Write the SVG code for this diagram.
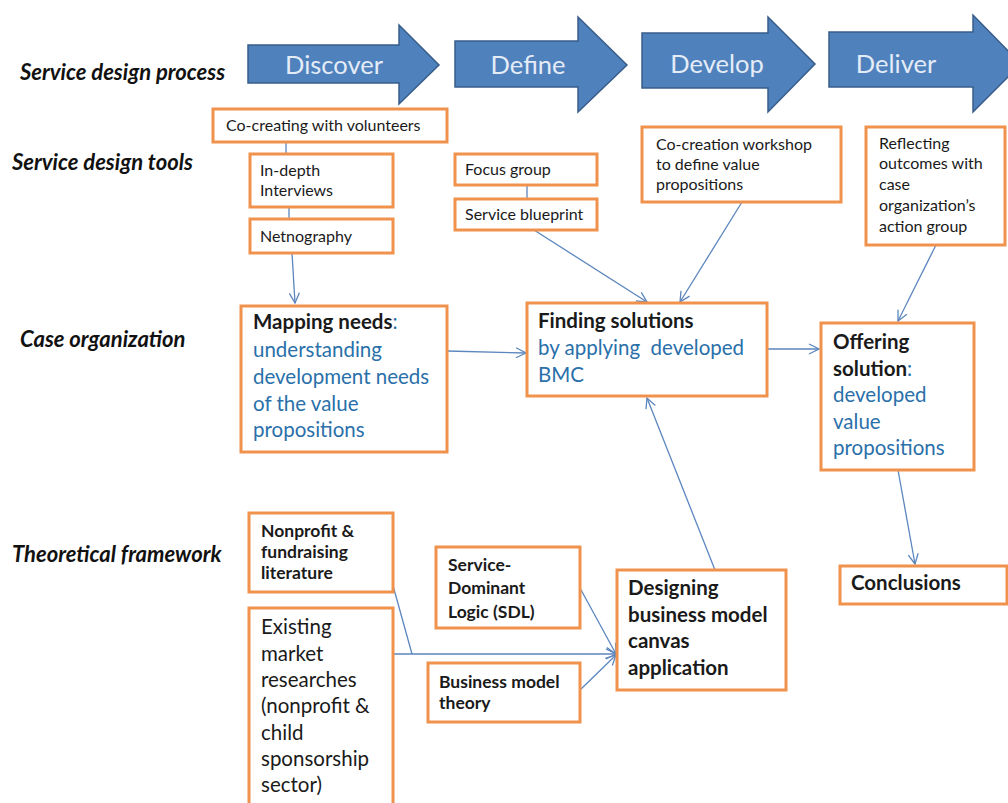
<svg xmlns="http://www.w3.org/2000/svg" width="1008" height="803" viewBox="0 0 1008 803">
  <style>
    .bg { fill: #ffffff; }
    .phase { fill: #4F81BD; stroke: #385D8A; stroke-width: 1.5; }
    .phase-label { font-family: Lato, "Open Sans", sans-serif; font-size: 25.5px; fill: #E4ECF7; text-anchor: middle; }
    .row-label { font-family: Lato, "Open Sans", sans-serif; font-size: 22px; font-weight: bold; font-style: italic; fill: #111111; }
    .box { fill: #ffffff; stroke: #F0924C; stroke-width: 3; }
    .t-sm { font-family: Lato, "Open Sans", sans-serif; font-size: 16px; fill: #1a1a1a; }
    .t-smb { font-family: Lato, "Open Sans", sans-serif; font-size: 17.5px; font-weight: bold; fill: #1a1a1a; }
    .t-lg { font-family: Lato, "Open Sans", sans-serif; font-size: 20.5px; fill: #1a1a1a; }
    .t-lgb { font-family: Lato, "Open Sans", sans-serif; font-size: 20.5px; font-weight: bold; fill: #1a1a1a; }
    .blue { fill: #2A70AA; font-weight: normal; }
    .link { fill: none; stroke: #5B86BE; stroke-width: 1.3; }
  </style>
  <defs>
    <marker id="open-head" viewBox="0 0 12 12" refX="11" refY="6" markerWidth="12" markerHeight="12" markerUnits="userSpaceOnUse" orient="auto">
      <path d="M1,1 L11,6 L1,11" fill="none" stroke="#5B86BE" stroke-width="1.3"/>
    </marker>
  </defs>

  <rect class="bg" x="0" y="0" width="1008" height="803"/>

  <!-- Row labels -->
  <g id="row-labels">
    <text class="row-label" x="20" y="80">Service design process</text>
    <text class="row-label" x="12" y="170">Service design tools</text>
    <text class="row-label" x="20" y="347">Case organization</text>
    <text class="row-label" x="12" y="562">Theoretical framework</text>
  </g>

  <!-- Process phases -->
  <g id="phase-discover">
    <path class="phase" d="M248,45 H399 V25 L439,65 L399,104 V83 H248 Z"/>
    <text class="phase-label" x="334" y="74">Discover</text>
  </g>
  <g id="phase-define">
    <path class="phase" d="M455,41 H578 V17 L627,65 L578,112 V87 H455 Z"/>
    <text class="phase-label" x="528" y="74">Define</text>
  </g>
  <g id="phase-develop">
    <path class="phase" d="M642,33 H768 V17 L815,64 L768,112 V88 H642 Z"/>
    <text class="phase-label" x="717" y="73">Develop</text>
  </g>
  <g id="phase-deliver">
    <path class="phase" d="M829,32 H973 V15 L1021,64 L973,112 V87 H829 Z"/>
    <text class="phase-label" x="896" y="73">Deliver</text>
  </g>

  <!-- Connectors -->
  <g id="connectors">
    <line class="link" x1="286" y1="142" x2="286" y2="154"/>
    <line class="link" x1="289" y1="207" x2="289" y2="219"/>
    <line class="link" x1="292" y1="253" x2="295" y2="303" marker-end="url(#open-head)"/>
    <line class="link" x1="527" y1="185" x2="527" y2="199"/>
    <line class="link" x1="534" y1="230" x2="647" y2="302" marker-end="url(#open-head)"/>
    <line class="link" x1="742" y1="202" x2="680" y2="302" marker-end="url(#open-head)"/>
    <line class="link" x1="936" y1="245" x2="898" y2="321" marker-end="url(#open-head)"/>
    <line class="link" x1="447" y1="351" x2="526" y2="353" marker-end="url(#open-head)"/>
    <line class="link" x1="767" y1="349" x2="819" y2="349" marker-end="url(#open-head)"/>
    <line class="link" x1="898" y1="470" x2="915" y2="564" marker-end="url(#open-head)"/>
    <line class="link" x1="715" y1="570" x2="647" y2="398" marker-end="url(#open-head)"/>
    <line class="link" x1="392" y1="582" x2="412" y2="654"/>
    <line class="link" x1="393" y1="654" x2="616" y2="654" marker-end="url(#open-head)"/>
    <line class="link" x1="580" y1="588" x2="616" y2="654" marker-end="url(#open-head)"/>
    <line class="link" x1="580" y1="690" x2="616" y2="655" marker-end="url(#open-head)"/>
  </g>

  <!-- Service design tools -->
  <g id="tool-cocreating">
    <rect class="box" x="213" y="109" width="234" height="33"/>
    <text class="t-sm" x="226" y="131">Co-creating with volunteers</text>
  </g>
  <g id="tool-interviews">
    <rect class="box" x="250" y="154" width="143" height="53"/>
    <text class="t-sm" x="260" y="176">In-depth</text>
    <text class="t-sm" x="260" y="196">Interviews</text>
  </g>
  <g id="tool-netnography">
    <rect class="box" x="250" y="219" width="143" height="34"/>
    <text class="t-sm" x="260" y="242">Netnography</text>
  </g>
  <g id="tool-focus-group">
    <rect class="box" x="455" y="154" width="142" height="31"/>
    <text class="t-sm" x="465" y="175">Focus group</text>
  </g>
  <g id="tool-blueprint">
    <rect class="box" x="455" y="199" width="142" height="31"/>
    <text class="t-sm" x="465" y="220">Service blueprint</text>
  </g>
  <g id="tool-workshop">
    <rect class="box" x="642" y="127" width="199" height="75"/>
    <text class="t-sm" x="656" y="150">Co-creation workshop</text>
    <text class="t-sm" x="656" y="170">to define value</text>
    <text class="t-sm" x="656" y="190">propositions</text>
  </g>
  <g id="tool-reflecting">
    <rect class="box" x="866" y="127" width="139" height="118"/>
    <text class="t-sm" x="879" y="149">Reflecting</text>
    <text class="t-sm" x="879" y="169">outcomes with</text>
    <text class="t-sm" x="879" y="190">case</text>
    <text class="t-sm" x="879" y="211">organization’s</text>
    <text class="t-sm" x="879" y="232">action group</text>
  </g>

  <!-- Case organization -->
  <g id="case-mapping">
    <rect class="box" x="241" y="306" width="206" height="146"/>
    <text class="t-lgb" x="253" y="329">Mapping needs<tspan class="blue">:</tspan></text>
    <text class="t-lg blue" x="253" y="357">understanding</text>
    <text class="t-lg blue" x="253" y="384">development needs</text>
    <text class="t-lg blue" x="253" y="411">of the value</text>
    <text class="t-lg blue" x="253" y="437">propositions</text>
  </g>
  <g id="case-finding">
    <rect class="box" x="527" y="303" width="240" height="93"/>
    <text class="t-lgb" x="538" y="328">Finding solutions</text>
    <text class="t-lg blue" x="538" y="355" xml:space="preserve">by applying  developed</text>
    <text class="t-lg blue" x="538" y="382">BMC</text>
  </g>
  <g id="case-offering">
    <rect class="box" x="821" y="323" width="153" height="147"/>
    <text class="t-lgb" x="833" y="349">Offering</text>
    <text class="t-lgb" x="833" y="376">solution<tspan class="blue">:</tspan></text>
    <text class="t-lg blue" x="833" y="402">developed</text>
    <text class="t-lg blue" x="833" y="429">value</text>
    <text class="t-lg blue" x="833" y="455">propositions</text>
  </g>
  <g id="case-conclusions">
    <rect class="box" x="840" y="566" width="167" height="38"/>
    <text class="t-lgb" x="851" y="590">Conclusions</text>
  </g>

  <!-- Theoretical framework -->
  <g id="theory-nonprofit">
    <rect class="box" x="249" y="513" width="144" height="79"/>
    <text class="t-smb" x="261" y="537">Nonprofit &amp;</text>
    <text class="t-smb" x="261" y="558">fundraising</text>
    <text class="t-smb" x="261" y="579">literature</text>
  </g>
  <g id="theory-market">
    <rect class="box" x="249" y="608" width="144" height="205"/>
    <text class="t-lg" x="261" y="634">Existing</text>
    <text class="t-lg" x="261" y="661">market</text>
    <text class="t-lg" x="261" y="687">researches</text>
    <text class="t-lg" x="261" y="713">(nonprofit &amp;</text>
    <text class="t-lg" x="261" y="740">child</text>
    <text class="t-lg" x="261" y="766">sponsorship</text>
    <text class="t-lg" x="261" y="792">sector)</text>
  </g>
  <g id="theory-sdl">
    <rect class="box" x="436" y="547" width="144" height="81"/>
    <text class="t-smb" x="448" y="571">Service-</text>
    <text class="t-smb" x="448" y="594">Dominant</text>
    <text class="t-smb" x="448" y="618">Logic (SDL)</text>
  </g>
  <g id="theory-bm">
    <rect class="box" x="428" y="663" width="152" height="59"/>
    <text class="t-smb" x="439" y="688">Business model</text>
    <text class="t-smb" x="439" y="709">theory</text>
  </g>
  <g id="theory-designing">
    <rect class="box" x="617" y="570" width="169" height="120"/>
    <text class="t-lgb" x="628" y="595">Designing</text>
    <text class="t-lgb" x="628" y="622">business model</text>
    <text class="t-lgb" x="628" y="648">canvas</text>
    <text class="t-lgb" x="628" y="675">application</text>
  </g>
</svg>
